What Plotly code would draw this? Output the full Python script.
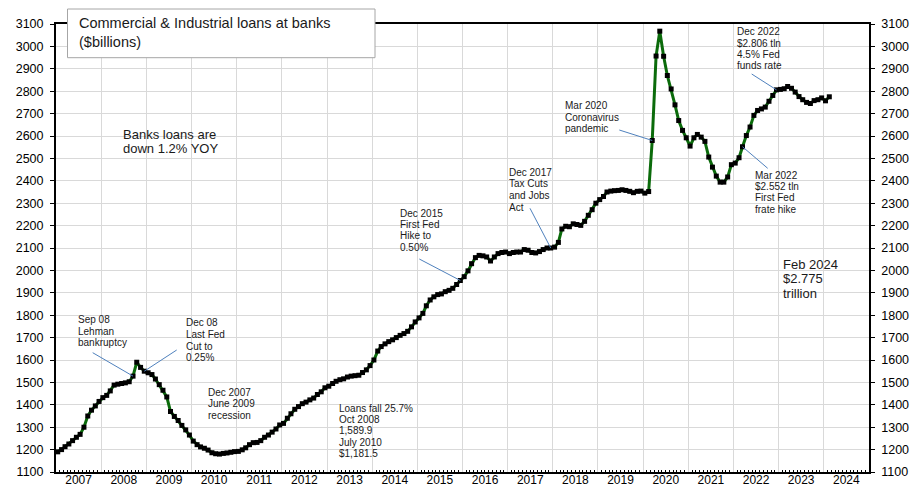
import pandas as pd
import plotly.graph_objects as go

# ---------------- data (C&I loans, $billions, monthly) ----------------
v2007 = [1190, 1200, 1213, 1225, 1240, 1255, 1268, 1300, 1350, 1376, 1395, 1415]
v2008 = [1432, 1442, 1462, 1488, 1492, 1495, 1498, 1503, 1528, 1590, 1567, 1550]
v2009 = [1543, 1535, 1515, 1490, 1465, 1435, 1370, 1348, 1330, 1308, 1288, 1265]
v2010 = [1238, 1222, 1212, 1206, 1198, 1186, 1181.5, 1180, 1183, 1185, 1188, 1191]
v2011 = [1192, 1199, 1208, 1222, 1231, 1232, 1240, 1255, 1265, 1278, 1292, 1310]
v2012 = [1317, 1340, 1360, 1380, 1392, 1405, 1412, 1422, 1430, 1446, 1458, 1476]
v2013 = [1483, 1495, 1505, 1512, 1516, 1524, 1528, 1530, 1532, 1544, 1556, 1575]
v2014 = [1600, 1640, 1660, 1672, 1682, 1690, 1700, 1710, 1718, 1728, 1748, 1770]
v2015 = [1788, 1808, 1842, 1868, 1882, 1892, 1895, 1905, 1911, 1920, 1937, 1955]
v2016 = [1972, 1998, 2030, 2057, 2067, 2065, 2060, 2042, 2060, 2075, 2080, 2082]
v2017 = [2075, 2080, 2082, 2082, 2093, 2090, 2080, 2078, 2084, 2093, 2100, 2100]
v2018 = [2104, 2125, 2185, 2197, 2195, 2208, 2205, 2201, 2219, 2246, 2271, 2300]
v2019 = [2316, 2330, 2350, 2354, 2356, 2357, 2360, 2357, 2353, 2347, 2353, 2354]
v2020 = [2345, 2352, 2580, 2957, 3068, 2956, 2870, 2810, 2739, 2669, 2625, 2592]
v2021 = [2555, 2592, 2607, 2595, 2576, 2506, 2461, 2421, 2394, 2394, 2417, 2472]
v2022 = [2479, 2503, 2552, 2602, 2640, 2692, 2714, 2721, 2729, 2755, 2781, 2806]
v2023 = [2808, 2811, 2821, 2813, 2796, 2776, 2762, 2750, 2745, 2758, 2762, 2770]
v2024 = [2757, 2775]

values = (v2007 + v2008 + v2009 + v2010 + v2011 + v2012 + v2013 + v2014 + v2015
          + v2016 + v2017 + v2018 + v2019 + v2020 + v2021 + v2022 + v2023 + v2024)
dates = pd.date_range("2007-01-01", periods=len(values), freq="MS") + pd.Timedelta(days=14)

title_lines = ["Commercial & Industrial loans at banks", "($billions)"]

# annotation texts: (left px, first-line centre px, line spacing, font size, lines)
text_blocks = [
    (76, 319.5, 11.7, 10, ["Sep 08", "Lehman", "bankruptcy"]),
    (184.3, 322.7, 11.7, 10, ["Dec 08", "Last Fed", "Cut to", "0.25%"]),
    (206, 392.7, 11.2, 10, ["Dec 2007", "June 2009", "recession"]),
    (337.3, 408.3, 11.25, 10, ["Loans fall 25.7%", "Oct 2008", "1,589.9", "July 2010", "$1,181.5"]),
    (398.3, 213.3, 11.3, 10, ["Dec 2015", "First Fed", "Hike to", "0.50%"]),
    (507.3, 172.3, 11.7, 10, ["Dec 2017", "Tax Cuts", "and Jobs", "Act"]),
    (563.3, 105.5, 11.5, 10, ["Mar 2020", "Coronavirus", "pandemic"]),
    (735, 31.7, 11.3, 10, ["Dec 2022", "$2.806 tln", "4.5% Fed", "funds rate"]),
    (753.3, 175, 11.4, 10, ["Mar 2022", "$2.552 tln", "First Fed", "frate hike"]),
    (781, 264, 14.7, 13, ["Feb 2024", "$2.775", "trillion"]),
    (120.7, 134.3, 14.7, 13, ["Banks loans are", "down 1.2% YOY"]),
    (76.7, 23.3, 18.4, 14.5, title_lines),
]
# white backgrounds behind the notes (x0, y0, x1, y1 in px)
note_bgs = [(72, 306, 133, 352), (178, 312, 232, 364), (198, 382, 262, 423),
            (333, 402, 417, 463), (395, 207, 447, 253), (503, 165, 553, 213),
            (560, 97, 627, 133), (732, 25, 788, 72), (750, 168, 807, 215),
            (778, 252, 852, 322), (112, 120, 229, 163)]
# leader lines: (start px x, start px y, index of data point)
leaders = [(92.7, 352.7, 20), (176.7, 350, 23), (419.3, 259, 107), (530, 208.3, 131),
           (619.3, 130, 158), (751.7, 74, 191), (767.7, 168.3, 182)]

# ---------------- geometry ----------------
W, H = 921, 489
ML, MR, MT, MB = 56, 52, 24, 17
PW, PH = W - ML - MR, H - MT - MB
XSTART, XEND = pd.Timestamp("2007-01-01"), pd.Timestamp("2025-01-01")
YMIN, YMAX = 1100, 3100


def px(x):
    return (x - ML) / PW


def py(y):
    return (H - MB - y) / PH


def pdate(x):
    return XSTART + (x - ML) / PW * (XEND - XSTART)


def pval(y):
    return YMIN + (H - MB - y) / PH * (YMAX - YMIN)


FONT = "Liberation Sans, Arial, sans-serif"

fig = go.Figure()
fig.add_trace(go.Scatter(
    x=dates, y=values, mode="lines+markers",
    line=dict(color="#0b6b0b", width=3),
    marker=dict(symbol="square", size=5, color="black"),
    showlegend=False, hoverinfo="x+y"))
fig.add_trace(go.Scatter(
    x=dates, y=values, yaxis="y2", mode="lines", line=dict(width=0),
    opacity=0, showlegend=False, hoverinfo="skip"))

shapes = []
for (x0, y0, x1, y1) in note_bgs:
    shapes.append(dict(type="rect", xref="paper", yref="paper",
                       x0=px(x0), x1=px(x1), y0=py(y1), y1=py(y0),
                       fillcolor="white", line=dict(width=0), layer="between"))
# title box
shapes.append(dict(type="rect", xref="paper", yref="paper",
                   x0=px(67.5), x1=px(375), y0=py(57.7), y1=py(9),
                   fillcolor="white", line=dict(color="#a6a6a6", width=1), layer="above"))
for (sx, sy, idx) in leaders:
    shapes.append(dict(type="line", xref="x", yref="y",
                       x0=pdate(sx), y0=pval(sy), x1=dates[idx], y1=values[idx],
                       line=dict(color="#4f81bd", width=1), layer="above"))

annotations = []
for (lx, cy, sp, size, lines) in text_blocks:
    for i, t in enumerate(lines):
        annotations.append(dict(
            xref="paper", yref="paper", x=px(lx), y=py(cy + i * sp),
            xanchor="left", yanchor="middle", text=t, showarrow=False,
            font=dict(family=FONT, size=size, color="#1a1a1a")))

fig.update_layout(
    width=W, height=H, template="none",
    margin=dict(l=ML, r=MR, t=MT, b=MB, pad=0),
    paper_bgcolor="white", plot_bgcolor="white",
    font=dict(family=FONT, size=12.5, color="black"),
    shapes=shapes, annotations=annotations,
    xaxis=dict(type="date", range=[XSTART, XEND], dtick="M12", tick0="2007-01-01",
               ticklabelmode="period", tickformat="%Y",
               showgrid=True, gridcolor="#d9d9d9", gridwidth=1,
               showline=True, linecolor="black", linewidth=2, mirror=True,
               ticks="", automargin=False, tickfont=dict(size=12),
               ticklabelstandoff=-4,
               minor=dict(dtick="M1", ticks="inside", ticklen=2, tickcolor="black",
                          showgrid=False)),
    yaxis=dict(range=[YMIN, YMAX], dtick=100, tick0=1100,
               showgrid=True, gridcolor="#d9d9d9", gridwidth=1,
               showline=True, linecolor="black", linewidth=2,
               ticks="outside", ticklen=4, tickcolor="black",
               ticklabelstandoff=4, zeroline=False, automargin=False,
               tickfont=dict(size=12.5)),
    yaxis2=dict(range=[YMIN, YMAX], dtick=100, tick0=1100, overlaying="y", side="right",
                showgrid=False, showline=True, linecolor="black", linewidth=1.5,
                ticks="outside", ticklen=4, tickcolor="black",
                ticklabelstandoff=4, zeroline=False, automargin=False,
                tickfont=dict(size=12.5)),
)

fig.write_html("out.html")
